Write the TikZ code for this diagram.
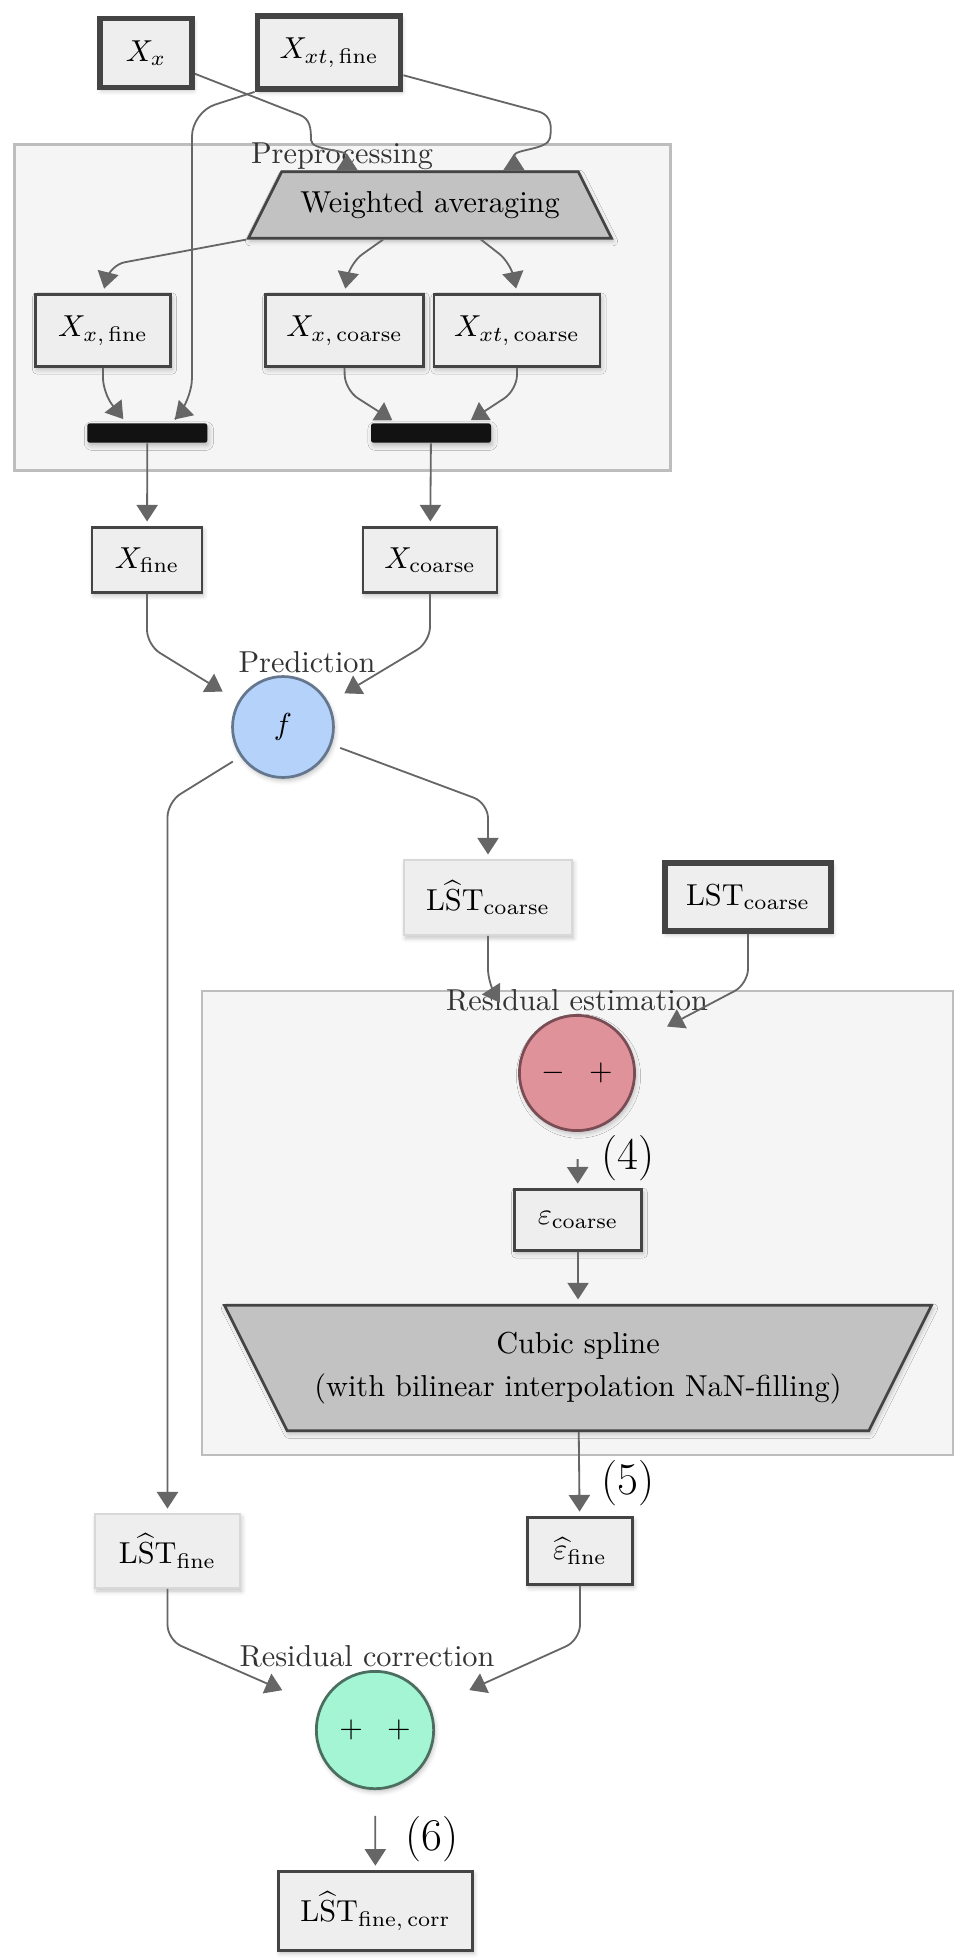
\documentclass[tikz,border=0pt]{standalone}
\usepackage{amsmath}
\usepackage{xcolor}
\usepackage{tikz}
\usetikzlibrary{arrows.meta,shapes.geometric,shadows.blur}

\definecolor{boxfill}{HTML}{EEEEEE}
\definecolor{boxline}{HTML}{444444}
\definecolor{softline}{HTML}{D8D8D8}
\definecolor{clusterfill}{HTML}{F5F5F5}
\definecolor{clusterline}{HTML}{BDBDBD}
\definecolor{trapfill}{HTML}{C2C2C2}
\definecolor{edgegray}{HTML}{666666}
\definecolor{predfill}{HTML}{B5D3FA}
\definecolor{predline}{HTML}{65778F}
\definecolor{resfill}{HTML}{E0929A}
\definecolor{resline}{HTML}{7A4D55}
\definecolor{corrfill}{HTML}{A3F5D3}
\definecolor{corrline}{HTML}{4B6E60}
\definecolor{labelgray}{HTML}{333333}

\begin{document}
\begin{tikzpicture}[x=0.33pt, y=-0.33pt,
    softshadow/.style={blur shadow={shadow xshift=0.5pt, shadow yshift=-1pt, shadow opacity=25, shadow blur radius=1.5pt}},
    databox/.style={rectangle, draw=boxline, fill=boxfill, line width=0.9pt, inner sep=2pt, softshadow},
    inputbox/.style={databox, line width=1.9pt},
    estbox/.style={databox, draw=softline, line width=0.6pt},
    joinbar/.style={rectangle, fill=black!93, rounded corners=0.8pt, minimum width=39.6pt, minimum height=6.4pt, inner sep=0pt, softshadow},
    trapbox/.style={trapezium, trapezium stretches body, draw=boxline, fill=trapfill, line width=0.9pt, inner xsep=2pt, softshadow},
    opcircle/.style={circle, line width=0.9pt, inner sep=0pt, softshadow},
    clusterbg/.style={rectangle, draw=clusterline, fill=clusterfill, line width=0.9pt, inner sep=0pt},
    clusterlabel/.style={text=labelgray, anchor=base, inner sep=0pt},
    steplabel/.style={font=\fontsize{15}{18}\selectfont, inner sep=0pt},
    flowarrow/.style={draw=edgegray, line width=0.6pt, -{Triangle[length=5.5pt, width=7pt]}, shorten >=1.5pt, rounded corners=5pt},
    flowinv/.style={draw=edgegray, line width=0.6pt, -{Triangle[length=5.5pt, width=7pt, reversed]}},
]
    \useasboundingbox (0,0) rectangle (970,1958);

    % Clusters
    \node[clusterbg, minimum width=216.5pt, minimum height=107.6pt] (prep) at (342.5,307.5) {};
    \node[clusterbg, minimum width=247.8pt, minimum height=153.1pt] (resid) at (577.5,1223) {};

    % Inputs
    \node[inputbox, minimum width=30.4pt, minimum height=22.8pt] (xx) at (146,53) {$X_x$};
    \node[inputbox, minimum width=47.2pt, minimum height=24.1pt] (xxtf) at (329,52.5) {$X_{xt,\,\mathrm{fine}}$};

    % Preprocessing
    \node[clusterlabel] (preplab) at (342,163) {Preprocessing};
    \node[trapbox, trapezium left angle=63.43, trapezium right angle=63.43, inner ysep=6.45pt, minimum width=119.8pt, minimum height=21.8pt] (wa) at (430,205) {Weighted averaging};
    \node[databox, minimum width=44.6pt, minimum height=23.8pt] (xxfine) at (103,330.5) {$X_{x,\,\mathrm{fine}}$};
    \node[databox, minimum width=52.1pt, minimum height=23.8pt] (xxcoarse) at (344.5,330.5) {$X_{x,\,\mathrm{coarse}}$};
    \node[databox, minimum width=54.8pt, minimum height=23.8pt] (xxtcoarse) at (517,330.5) {$X_{xt,\,\mathrm{coarse}}$};
    \node[joinbar] (catfine) at (147.3,433) {};
    \node[joinbar] (catcoarse) at (431,433) {};

    % Stacked inputs
    \node[databox, minimum width=36.3pt, minimum height=21.5pt] (xfine) at (147,560) {$X_{\mathrm{fine}}$};
    \node[databox, minimum width=44.2pt, minimum height=21.5pt] (xcoarse) at (430,560) {$X_{\mathrm{coarse}}$};

    % Prediction
    \node[clusterlabel] (predlab) at (307,672) {Prediction};
    \node[opcircle, fill=predfill, draw=predline, minimum size=33.3pt] (f) at (283,727) {$f$};
    \node[estbox, minimum width=55.4pt, minimum height=24.8pt] (lstc) at (488,897.5) {$\mathrm{L\widehat{S}T}_{\mathrm{coarse}}$};
    \node[inputbox, minimum width=55pt, minimum height=22.5pt] (lst) at (748,897) {$\mathrm{LST}_{\mathrm{coarse}}$};

    % Residual estimation
    \node[clusterlabel] (residlab) at (577,1010) {Residual estimation};
    \node[opcircle, fill=resfill, draw=resline, minimum size=38pt] (diff) at (577,1073) {$-$\hspace{8pt}$+$};
    \node[steplabel] (s4) at (628,1158.5) {(4)};
    \node[databox, minimum width=41.9pt, minimum height=20.1pt] (epsc) at (578,1220) {$\varepsilon_{\mathrm{coarse}}$};
    \node[trapbox, trapezium left angle=116.57, trapezium right angle=116.57, inner ysep=8.8pt, minimum width=233.3pt, minimum height=41.3pt, align=center] (spline) at (578,1368) {Cubic spline\\[2.2pt](with bilinear interpolation NaN-filling)};
    \node[steplabel] (s5) at (628,1483) {(5)};
    \node[databox, minimum width=34.7pt, minimum height=22.1pt] (epsf) at (580,1551) {$\widehat{\varepsilon}_{\mathrm{fine}}$};
    \node[estbox, minimum width=47.9pt, minimum height=24.4pt] (lstf) at (167.5,1551) {$\mathrm{L\widehat{S}T}_{\mathrm{fine}}$};

    % Residual correction
    \node[clusterlabel] (corrlab) at (367,1666) {Residual correction};
    \node[opcircle, fill=corrfill, draw=corrline, minimum size=38.7pt] (corr) at (375,1730) {$+$\hspace{8pt}$+$};
    \node[steplabel] (s6) at (432,1839) {(6)};
    \node[databox, minimum width=64pt, minimum height=26pt] (lstfc) at (375.5,1911) {$\mathrm{L\widehat{S}T}_{\mathrm{fine,\,corr}}$};

    % Arrows
    \draw[flowinv] (xx.-23) -- (300,115) .. controls (310,119) and (311,128) .. (311,140) .. controls (311,151) and (347,149) .. ([xshift=-27.4pt]wa.north);
    \draw[flowinv] (xxtf.-17) -- (540,112) .. controls (551,116) and (552,126) .. (550,138) .. controls (548,150) and (514,149) .. ([xshift=27.7pt]wa.north);
    \draw[flowarrow, rounded corners=8pt] (xxtf.south west) -- (192,112) -- (192,402) -- ([xshift=8pt]catfine.north);
    \draw[flowarrow] (wa.bottom left corner) -- (110,265) -- (xxfine.north);
    \draw[flowarrow] ([xshift=-15.5pt]wa.south) -- (350,263) -- (xxcoarse.north);
    \draw[flowarrow] ([xshift=16.8pt]wa.south) -- (511,263) -- (xxtcoarse.north);
    \draw[flowarrow] (xxfine.south) -- (103,393) -- ([xshift=-7pt]catfine.north);
    \draw[flowarrow] (xxcoarse.south) -- (345,390) -- ([xshift=-11.5pt]catcoarse.north);
    \draw[flowarrow] (xxtcoarse.south) -- (517,390) -- ([xshift=11.9pt]catcoarse.north);
    \draw[flowarrow] (catfine) -- (xfine);
    \draw[flowarrow] (catcoarse) -- (xcoarse);
    \draw[flowarrow, shorten >=6pt] (xfine.south) -- (147,645) -- (f.150);
    \draw[flowarrow, shorten >=6pt] (xcoarse.south) -- (430,642) -- (f.28);
    \draw[flowarrow, shorten <=3pt] (f.-145) -- (167.5,802) -- (lstf.north);
    \draw[flowarrow, shorten <=3pt] (f.-20) -- (488,803) -- (lstc.north);
    \draw[flowarrow, shorten >=16pt] (lstc.south) -- (488,984) -- (diff.150);
    \draw[flowarrow, shorten >=14pt] (lst.south) -- (748,984) -- (diff.27);
    \draw[flowarrow, shorten <=9pt] (diff) -- (epsc);
    \draw[flowarrow] (epsc) -- (spline);
    \draw[flowarrow] (spline) -- (epsf);
    \draw[flowarrow, shorten >=13.5pt] (lstf.south) -- (167.5,1640) -- (corr.157);
    \draw[flowarrow, shorten >=14pt] (epsf.south) -- (580,1640) -- (corr.22.5);
    \draw[flowarrow, shorten <=8.5pt] (corr) -- (lstfc);
\end{tikzpicture}
\end{document}
